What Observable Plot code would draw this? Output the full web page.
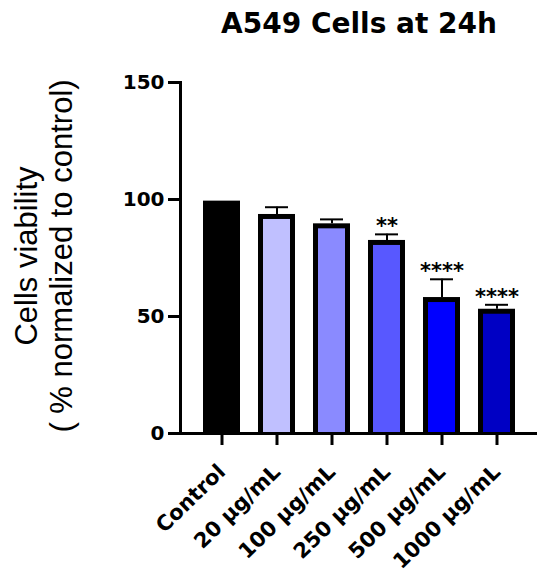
<!DOCTYPE html>
<html>
<head>
<meta charset="utf-8">
<script src="https://cdn.jsdelivr.net/npm/d3@7"></script>
<script src="https://cdn.jsdelivr.net/npm/@observablehq/plot@0.6"></script>
<style>
  html, body { margin: 0; padding: 0; background: #fff; }
  #chart svg { display: block; }
</style>
</head>
<body>
<div id="chart"></div>
<script>
// ---- data ----
const groups = ["Control", "20 µg/mL", "100 µg/mL", "250 µg/mL", "500 µg/mL", "1000 µg/mL"];
const means = [99.3, 93.6, 89.6, 82.5, 58.1, 53.1];
const sds = [0, 3.1, 1.9, 2.6, 7.8, 1.9];
const stars = ["", "", "", "**", "****", "****"];
const colors = ["#000000", "#c0c0ff", "#8a8aff", "#5858ff", "#0000ff", "#0000c4"];
const yTicks = [0, 50, 100, 150];
const title = "A549 Cells at 24h";
const yLabel1 = "Cells viability";
const yLabel2 = "( % normalized to control)";

const rows = groups.map((g, i) => ({group: g, mean: means[i], sd: sds[i], top: means[i] + sds[i], star: stars[i], color: colors[i]}));

const chart = Plot.plot({
  width: 550,
  height: 578,
  marginLeft: 180,
  marginRight: 13,
  marginTop: 82,
  marginBottom: 145,
  style: {fontFamily: "'Liberation Sans', Arial, sans-serif", color: "#000", background: "#fff"},
  x: {domain: groups, paddingInner: 0.333, paddingOuter: 0.383, axis: null},
  y: {domain: [0, 150], axis: null},
  color: {type: "identity"},
  marks: [
    // error bars (upper only)
    Plot.ruleX(rows.filter(d => d.sd > 0), {x: "group", y1: "mean", y2: "top", stroke: "#000", strokeWidth: 2}),
    Plot.tickY(rows.filter(d => d.sd > 0), {x: "group", y: "top", stroke: "#000", strokeWidth: 2, insetLeft: 7, insetRight: 7}),
    // bars: black outline then coloured fill
    Plot.barY(rows, {x: "group", y: "mean", fill: "#000"}),
    Plot.barY(rows, {x: "group", y: "mean", fill: "color", insetLeft: 5, insetRight: 5, insetTop: 5}),
    // significance stars
    Plot.text(rows.filter(d => d.star), {x: "group", y: "top", text: "star", dy: -8, lineAnchor: "middle", fontFamily: "DejaVu Sans", fontWeight: "bold", fontSize: 21, fill: "#000"}),
    // axes
    Plot.axisY({ticks: yTicks, tickSize: 12, strokeWidth: 3, tickPadding: 4, fontFamily: "DejaVu Sans", fontWeight: "bold", fontSize: 20, label: null, fill: "#000"}),
    Plot.axisX({tickSize: 12, strokeWidth: 3, tickPadding: 23, tickRotate: -44, fontFamily: "DejaVu Sans", fontWeight: "bold", fontSize: 21, label: null, fill: "#000"}),
    Plot.frame({anchor: "left", strokeWidth: 3, stroke: "#000"}),
    Plot.ruleY([0], {strokeWidth: 3, stroke: "#000"}),
    // title and y label
    Plot.text([title], {frameAnchor: "top", dy: -58, lineAnchor: "middle", fontFamily: "DejaVu Sans", fontWeight: "bold", fontSize: 28, fill: "#000"}),
    Plot.text([yLabel1], {frameAnchor: "left", textAnchor: "middle", dx: -153, dy: -2, rotate: -90, lineAnchor: "middle", fontFamily: "'Liberation Sans', Arial, sans-serif", fontSize: 31, fill: "#000"}),
    Plot.text([yLabel2], {frameAnchor: "left", textAnchor: "middle", dx: -118, dy: -2, rotate: -90, lineAnchor: "middle", fontFamily: "'Liberation Sans', Arial, sans-serif", fontSize: 31, fill: "#000"})
  ]
});
document.getElementById("chart").append(chart);
</script>
</body>
</html>
